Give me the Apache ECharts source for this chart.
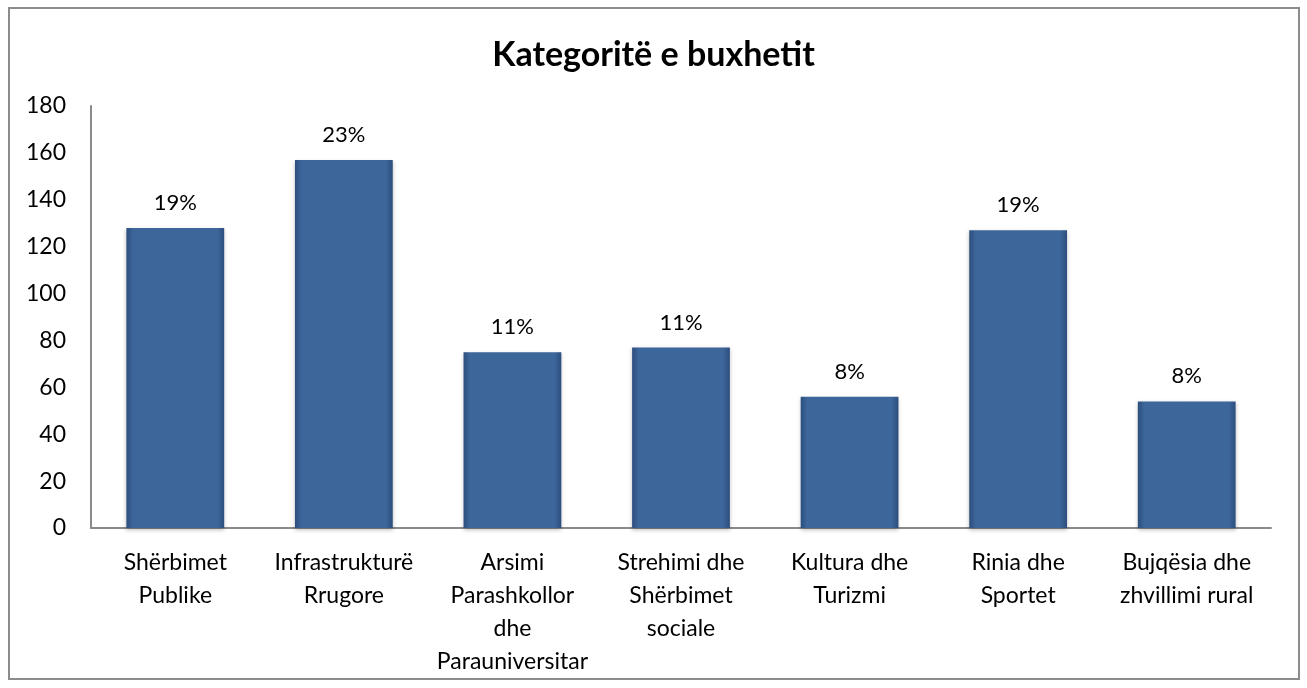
<!DOCTYPE html>
<html>
<head>
<meta charset="utf-8">
<title>Kategoritë e buxhetit</title>
<script src="https://cdn.jsdelivr.net/npm/echarts@6/dist/echarts.min.js"></script>
<style>
  html, body { margin: 0; padding: 0; background: #fff; }
  #frame {
    position: absolute; left: 8px; top: 7px; width: 1292px; height: 673px;
    border: 2px solid #8c8c8c; box-sizing: border-box;
  }
  #chart { position: absolute; left: 0; top: 0; width: 1307px; height: 688px; }
</style>
</head>
<body>
<div id="frame"></div>
<div id="chart"></div>
<script>
// kategoritë dhe vlerat (lexuar nga grafiku)
const categories = [
  'Shërbimet\nPublike',
  'Infrastrukturë\nRrugore',
  'Arsimi\nParashkollor\ndhe\nParauniversitar',
  'Strehimi dhe\nShërbimet\nsociale',
  'Kultura dhe\nTurizmi',
  'Rinia dhe\nSportet',
  'Bujqësia dhe\nzhvillimi rural'
];
const values = [128, 157, 75, 77, 56, 127, 54];
const percentLabels = ['19%', '23%', '11%', '11%', '8%', '19%', '8%'];
const yTicks = [0, 20, 40, 60, 80, 100, 120, 140, 160, 180];

const font = 'Lato, "Open Sans", sans-serif';

const chart = echarts.init(document.getElementById('chart'));

// bevel-like fill like the office chart
const barFill = new echarts.graphic.LinearGradient(0, 0, 1, 0, [
  { offset: 0, color: '#2c4e7e' },
  { offset: 0.07, color: '#3d679b' },
  { offset: 0.93, color: '#3d669a' },
  { offset: 1, color: '#2c4e7e' }
]);

chart.setOption({
  animation: false,
  title: {
    text: 'Kategoritë e buxhetit',
    left: 'center',
    top: 33,
    textStyle: { fontFamily: font, fontSize: 34, fontWeight: 'bold', color: '#000' }
  },
  grid: { left: 91, right: 36, top: 106, bottom: 160 },
  xAxis: {
    type: 'category',
    data: categories,
    axisLine: { lineStyle: { color: '#8a8a8a', width: 2 } },
    axisTick: { show: false },
    axisLabel: {
      interval: 0,
      margin: 18,
      fontFamily: font,
      fontSize: 23,
      lineHeight: 33,
      color: '#000'
    }
  },
  yAxis: {
    type: 'value',
    min: yTicks[0],
    max: yTicks[yTicks.length - 1],
    interval: 20,
    axisLine: { show: true, lineStyle: { color: '#8a8a8a', width: 2 } },
    axisTick: { show: false },
    splitLine: { show: false },
    axisLabel: { margin: 25, fontFamily: font, fontSize: 23, color: '#000' }
  },
  series: [{
    type: 'bar',
    data: values,
    barWidth: '58%',
    itemStyle: {
      color: barFill,
      borderColor: '#4a76ad',
      borderWidth: 0,
      shadowColor: 'rgba(0,0,0,0.25)',
      shadowBlur: 4,
      shadowOffsetY: 2
    },
    label: {
      show: true,
      position: 'top',
      distance: 14,
      fontFamily: font,
      fontSize: 22,
      color: '#000',
      formatter: p => percentLabels[p.dataIndex]
    }
  }]
});

window.addEventListener('resize', () => chart.resize());
</script>
</body>
</html>
